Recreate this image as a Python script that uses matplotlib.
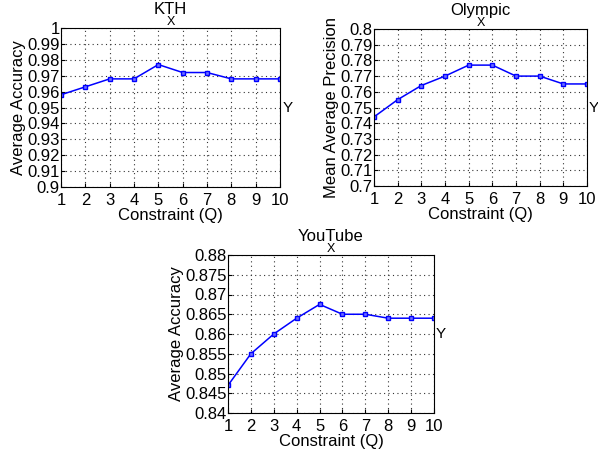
import numpy as np
import matplotlib.pyplot as plt

plt.rcParams['font.family'] = ['Liberation Sans', 'DejaVu Sans']

q = list(range(1, 11))
kth = [0.958, 0.963, 0.968, 0.968, 0.977, 0.972, 0.972, 0.968, 0.968, 0.968]
olympic = [0.744, 0.755, 0.764, 0.770, 0.777, 0.777, 0.770, 0.770, 0.765, 0.765]
youtube = [0.847, 0.855, 0.860, 0.864, 0.8675, 0.865, 0.865, 0.864, 0.864, 0.864]

kth_ticks = [0.90, 0.91, 0.92, 0.93, 0.94, 0.95, 0.96, 0.97, 0.98, 0.99, 1.0]
kth_labels = ['0.9', '0.91', '0.92', '0.93', '0.94', '0.95', '0.96', '0.97', '0.98', '0.99', '1']
oly_ticks = [0.70, 0.71, 0.72, 0.73, 0.74, 0.75, 0.76, 0.77, 0.78, 0.79, 0.80]
oly_labels = ['0.7', '0.71', '0.72', '0.73', '0.74', '0.75', '0.76', '0.77', '0.78', '0.79', '0.8']
yt_ticks = [0.84, 0.845, 0.85, 0.855, 0.86, 0.865, 0.87, 0.875, 0.88]
yt_labels = ['0.84', '0.845', '0.85', '0.855', '0.86', '0.865', '0.87', '0.875', '0.88']

W, H = 598, 454
fig = plt.figure(figsize=(W / 100, H / 100), dpi=100)


def panel(box, vals, ticks, labels, title, ylabel):
    "one small matlab-style panel, box in pixels (left, top, right, bottom)"
    l, t, r, b = box
    ax = fig.add_axes([l / W, 1 - b / H, (r - l) / W, (b - t) / H])
    ax.plot(q, vals, color='#0000ff', marker='s', markersize=3.5, lw=1.1,
            markerfacecolor='#7070ff', markeredgecolor='#0000ff', markeredgewidth=1)
    ax.set_xlim(1, 10)
    ax.set_ylim(ticks[0], ticks[-1])
    ax.set_xticks(q)
    ax.set_yticks(ticks)
    ax.set_yticklabels(labels)
    ax.grid(True, color='#333333', linestyle=(0, (1, 3)), linewidth=0.8)
    ax.tick_params(labelsize=12, direction='in', length=3)
    ax.tick_params(axis='x', pad=4)
    ax.tick_params(axis='y', pad=1)
    ax.set_xlabel('Constraint (Q)', fontsize=12, labelpad=0)
    ax.set_ylabel(ylabel, fontsize=12, labelpad=1)
    ax.set_title(title, fontsize=12, pad=10)
    ax.text(0.5, 1.0, 'X', transform=ax.transAxes, ha='center', va='bottom', fontsize=9)
    ax.text(1.01, 0.5, 'Y', transform=ax.transAxes, ha='left', va='center', fontsize=11)
    for s in ax.spines.values():
        s.set_linewidth(0.8)
    return ax


panel((61, 28, 280, 187), kth, kth_ticks, kth_labels, 'KTH', 'Average Accuracy')
panel((374, 29, 587, 186), olympic, oly_ticks, oly_labels, 'Olympic', 'Mean Average Precision')
panel((228, 255, 434, 413), youtube, yt_ticks, yt_labels, 'YouTube', 'Average Accuracy')

fig.savefig('out.png', dpi=100)
